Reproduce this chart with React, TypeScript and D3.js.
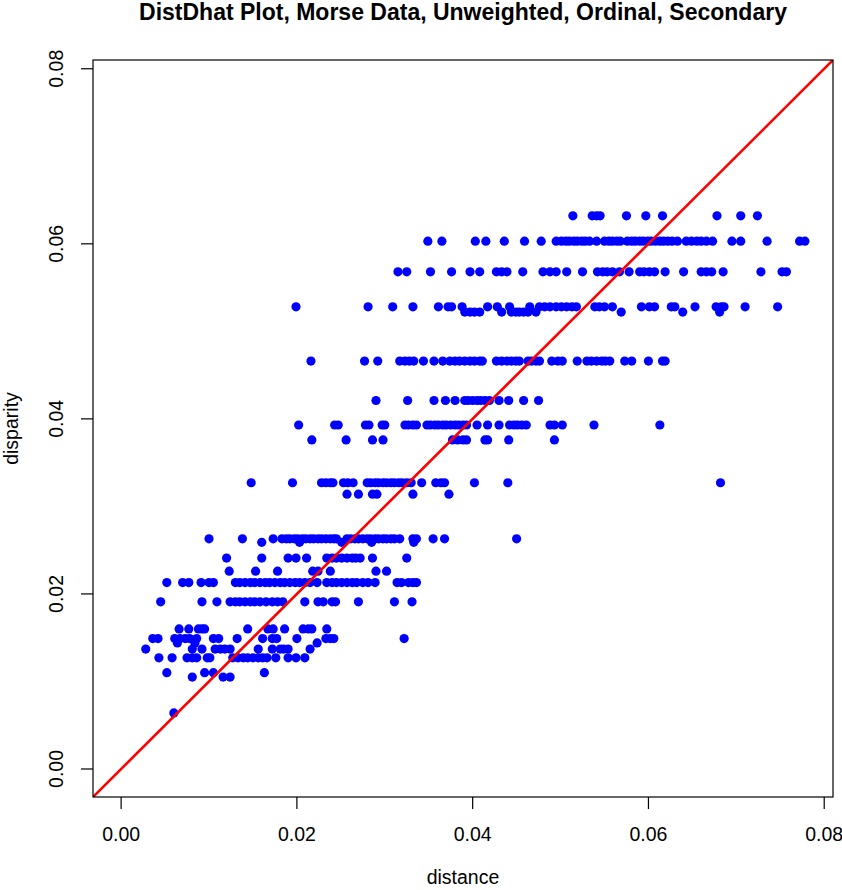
import React from "react";
import { scaleLinear, format } from "d3";

// disparity levels (y) and the distances (x) observed at each level
const disparityLevels = [
  0.0632, 0.0603, 0.0568, 0.0528, 0.0522, 0.0466, 0.0421, 0.0393, 0.0376,
  0.0327, 0.0314, 0.0263, 0.0259, 0.0241, 0.0226, 0.0213, 0.0191, 0.016,
  0.0149, 0.0144, 0.0137, 0.0127, 0.011, 0.0105, 0.0064,
];

const row0632 = [0.0514, 0.0536, 0.0541, 0.0545, 0.0575, 0.0597, 0.0616, 0.0678, 0.0705, 0.0724];
const row0603 = [
  0.0349, 0.0365, 0.0403, 0.0415, 0.0436, 0.0459, 0.0478, 0.0495, 0.0501, 0.0506, 0.051,
  0.0515, 0.0519, 0.0524, 0.0528, 0.0533, 0.0541, 0.055, 0.0555, 0.0559, 0.0564, 0.0568,
  0.0576, 0.0581, 0.0585, 0.059, 0.0594, 0.0599, 0.0603, 0.0608, 0.0613, 0.0617, 0.0622,
  0.0627, 0.0633, 0.0643, 0.0649, 0.0655, 0.066, 0.0666, 0.0673, 0.0695, 0.0705, 0.0735,
  0.0772, 0.0778,
];
const row0568 = [
  0.0315, 0.0325, 0.0352, 0.0376, 0.0397, 0.0408, 0.0427, 0.0433, 0.0439, 0.0457, 0.048,
  0.0488, 0.0495, 0.0507, 0.0525, 0.0542, 0.0548, 0.0553, 0.0559, 0.0567, 0.0578, 0.059,
  0.0595, 0.0601, 0.0607, 0.0619, 0.064, 0.066, 0.0666, 0.0672, 0.0685, 0.0728, 0.0752,
  0.0757,
];
const row0528 = [
  0.0199, 0.0281, 0.0309, 0.0332, 0.0361, 0.0372, 0.0376, 0.0388, 0.0417, 0.0428, 0.0442,
  0.0465, 0.0476, 0.0482, 0.0488, 0.0495, 0.0501, 0.0507, 0.0513, 0.0518, 0.0539, 0.0544,
  0.055, 0.0559, 0.0592, 0.0601, 0.0607, 0.0626, 0.063, 0.0653, 0.0677, 0.0683, 0.0686,
  0.071, 0.0747,
];
const row0522 = [
  0.0391, 0.0397, 0.0402, 0.0408, 0.0433, 0.0444, 0.0449, 0.0453, 0.0458, 0.0463, 0.0472,
  0.0569, 0.0639, 0.0681,
];
const row0466 = [
  0.0216, 0.0277, 0.0292, 0.0317, 0.0323, 0.0328, 0.0333, 0.0344, 0.0356, 0.0366, 0.0374,
  0.038, 0.0385, 0.0391, 0.0397, 0.0402, 0.0408, 0.0411, 0.0427, 0.0433, 0.0439, 0.0444,
  0.0449, 0.0453, 0.0463, 0.0467, 0.0472, 0.0476, 0.049, 0.0497, 0.0502, 0.0519, 0.053,
  0.0535, 0.0541, 0.0547, 0.0551, 0.0556, 0.0573, 0.0581, 0.06, 0.0616, 0.0619,
];
const row0421 = [
  0.029, 0.0326, 0.0356, 0.0369, 0.038, 0.0391, 0.0395, 0.04, 0.0405, 0.0409, 0.0414,
  0.0419, 0.043, 0.0441, 0.0458, 0.0475,
];
const row0393 = [
  0.0202, 0.0243, 0.0247, 0.0278, 0.0282, 0.0297, 0.03, 0.0323, 0.0327, 0.0332, 0.0336,
  0.0348, 0.0352, 0.0357, 0.0361, 0.0366, 0.037, 0.0375, 0.038, 0.0384, 0.0389, 0.0393,
  0.0405, 0.0417, 0.043, 0.0442, 0.0447, 0.0451, 0.0456, 0.0461, 0.0488, 0.0493, 0.0502,
  0.0538, 0.0613,
];
const row0376 = [
  0.0217, 0.0256, 0.0286, 0.0298, 0.0377, 0.0383, 0.0389, 0.0393, 0.0414, 0.0417, 0.0441,
  0.0493,
];
const row0327 = [
  0.0148, 0.0195, 0.0228, 0.0233, 0.0238, 0.0241, 0.0253, 0.0258, 0.0264, 0.028, 0.0284,
  0.0289, 0.0293, 0.0298, 0.0302, 0.0307, 0.0311, 0.0316, 0.032, 0.0325, 0.033, 0.0342,
  0.0358, 0.0364, 0.0368, 0.0402, 0.044, 0.0682,
];
const row0314 = [0.0257, 0.027, 0.0286, 0.0291, 0.0332, 0.0373];
const row0263 = [
  0.01, 0.0138, 0.0173, 0.0183, 0.0188, 0.0192, 0.0197, 0.0201, 0.0206, 0.021, 0.0215,
  0.0219, 0.0224, 0.0228, 0.0233, 0.0238, 0.0242, 0.0245, 0.0257, 0.0261, 0.0266, 0.027,
  0.0275, 0.028, 0.0284, 0.0289, 0.0293, 0.0298, 0.0302, 0.0307, 0.0311, 0.0317, 0.0332,
  0.0336, 0.0355, 0.0368, 0.045,
];
const row0259 = [0.016, 0.0203, 0.0251, 0.0285, 0.0333];
const row0241 = [
  0.012, 0.016, 0.019, 0.0199, 0.0211, 0.0234, 0.024, 0.0245, 0.0251, 0.0257, 0.0263,
  0.0267, 0.0272, 0.0286, 0.0325,
];
const row0226 = [0.0123, 0.0153, 0.0178, 0.0218, 0.0224, 0.0238, 0.029, 0.0302];
const row0213 = [
  0.0052, 0.007, 0.0077, 0.0091, 0.01, 0.0105, 0.013, 0.0135, 0.0141, 0.0147, 0.0152,
  0.0158, 0.0164, 0.0169, 0.0175, 0.0181, 0.0186, 0.0192, 0.0198, 0.0203, 0.0209, 0.0215,
  0.0223, 0.0234, 0.024, 0.0245, 0.0251, 0.0257, 0.0263, 0.0268, 0.0275, 0.0281, 0.0289,
  0.0314, 0.0319, 0.0327, 0.0332, 0.0336,
];
const row0191 = [
  0.0045, 0.0092, 0.0109, 0.0124, 0.013, 0.0135, 0.0141, 0.0147, 0.0152, 0.0158, 0.0165,
  0.0172, 0.0178, 0.0184, 0.0209, 0.0224, 0.023, 0.024, 0.0244, 0.027, 0.0311, 0.0331,
];
const row0160 = [
  0.0066, 0.0077, 0.0088, 0.0092, 0.0095, 0.0144, 0.0167, 0.0173, 0.0186, 0.0207, 0.0213,
  0.0217, 0.0234,
];
const row0149 = [
  0.0036, 0.0042, 0.0061, 0.0067, 0.0073, 0.0078, 0.0086, 0.0105, 0.0111, 0.0132, 0.0161,
  0.0172, 0.0177, 0.02, 0.0233, 0.0238, 0.0242, 0.0322,
];
const row0144 = [0.0064, 0.0084, 0.0223];
const row0137 = [
  0.0028, 0.0081, 0.0092, 0.0107, 0.0113, 0.0118, 0.0124, 0.0156, 0.0172, 0.0181, 0.0185,
  0.019, 0.0215,
];
const row0127 = [
  0.0043, 0.0058, 0.0075, 0.0081, 0.0086, 0.0098, 0.0101, 0.0127, 0.0133, 0.0139, 0.0144,
  0.015, 0.0156, 0.0161, 0.0166, 0.0176, 0.019, 0.0199, 0.0209,
];
const row0110 = [0.0052, 0.0095, 0.0105, 0.0163];
const row0105 = [0.0081, 0.0116, 0.0124];
const row0064 = [0.006];

const distanceRows = [
  row0632, row0603, row0568, row0528, row0522, row0466, row0421, row0393, row0376,
  row0327, row0314, row0263, row0259, row0241, row0226, row0213, row0191, row0160,
  row0149, row0144, row0137, row0127, row0110, row0105, row0064,
];

const xTicks = [0, 0.02, 0.04, 0.06, 0.08];
const yTicks = [0, 0.02, 0.04, 0.06, 0.08];
const limits = [-0.0032, 0.081];

const W = 842;
const H = 890;
const left = 93;
const right = 833;
const top = 60;
const bottom = 797;
const font = "'Liberation Sans', Arial, Helvetica, sans-serif";

export default function App() {
  const x = scaleLinear().domain(limits).range([left, right]);
  const y = scaleLinear().domain(limits).range([bottom, top]);
  const fmt = format(".2f");

  // flatten rows into points
  const points = [];
  distanceRows.forEach((row, i) => {
    row.forEach((d) => points.push({ x: d, y: disparityLevels[i] }));
  });

  return (
    <div style={{ position: "absolute", left: 0, top: 0 }}>
      <svg width={W} height={H} style={{ display: "block" }}>
        <rect width={W} height={H} fill="white" />
        <text
          x={(left + right) / 2}
          y={20}
          textAnchor="middle"
          fontFamily={font}
          fontWeight="bold"
          fontSize={23}
        >
          DistDhat Plot, Morse Data, Unweighted, Ordinal, Secondary
        </text>

        <g>
          {points.map((p, i) => (
            <circle key={i} cx={x(p.x)} cy={y(p.y)} r={4.6} fill="#0000ff" />
          ))}
        </g>

        <clipPath id="plotclip">
          <rect x={left} y={top} width={right - left} height={bottom - top} />
        </clipPath>
        <line
          x1={x(limits[0])}
          y1={y(limits[0])}
          x2={x(limits[1])}
          y2={y(limits[1])}
          stroke="#ff0000"
          strokeWidth={2.6}
          clipPath="url(#plotclip)"
        />

        <rect
          x={left}
          y={top}
          width={right - left}
          height={bottom - top}
          fill="none"
          stroke="black"
          strokeWidth={1.2}
        />

        {xTicks.map((t) => (
          <g key={"x" + t}>
            <line x1={x(t)} x2={x(t)} y1={bottom} y2={bottom + 12} stroke="black" strokeWidth={1.2} />
            <text
              x={x(t)}
              y={bottom + 37}
              textAnchor="middle"
              dominantBaseline="central"
              fontFamily={font}
              fontSize={19.5}
            >
              {fmt(t)}
            </text>
          </g>
        ))}

        {yTicks.map((t) => (
          <g key={"y" + t}>
            <line x1={left - 12} x2={left} y1={y(t)} y2={y(t)} stroke="black" strokeWidth={1.2} />
            <text
              transform={`translate(${left - 37},${y(t)}) rotate(-90)`}
              textAnchor="middle"
              dominantBaseline="central"
              fontFamily={font}
              fontSize={19.5}
            >
              {fmt(t)}
            </text>
          </g>
        ))}

        <text
          x={(left + right) / 2}
          y={877}
          textAnchor="middle"
          dominantBaseline="central"
          fontFamily={font}
          fontSize={19.5}
        >
          distance
        </text>
        <text
          transform={`translate(11,${(top + bottom) / 2}) rotate(-90)`}
          textAnchor="middle"
          dominantBaseline="central"
          fontFamily={font}
          fontSize={19.5}
        >
          disparity
        </text>
      </svg>
    </div>
  );
}
